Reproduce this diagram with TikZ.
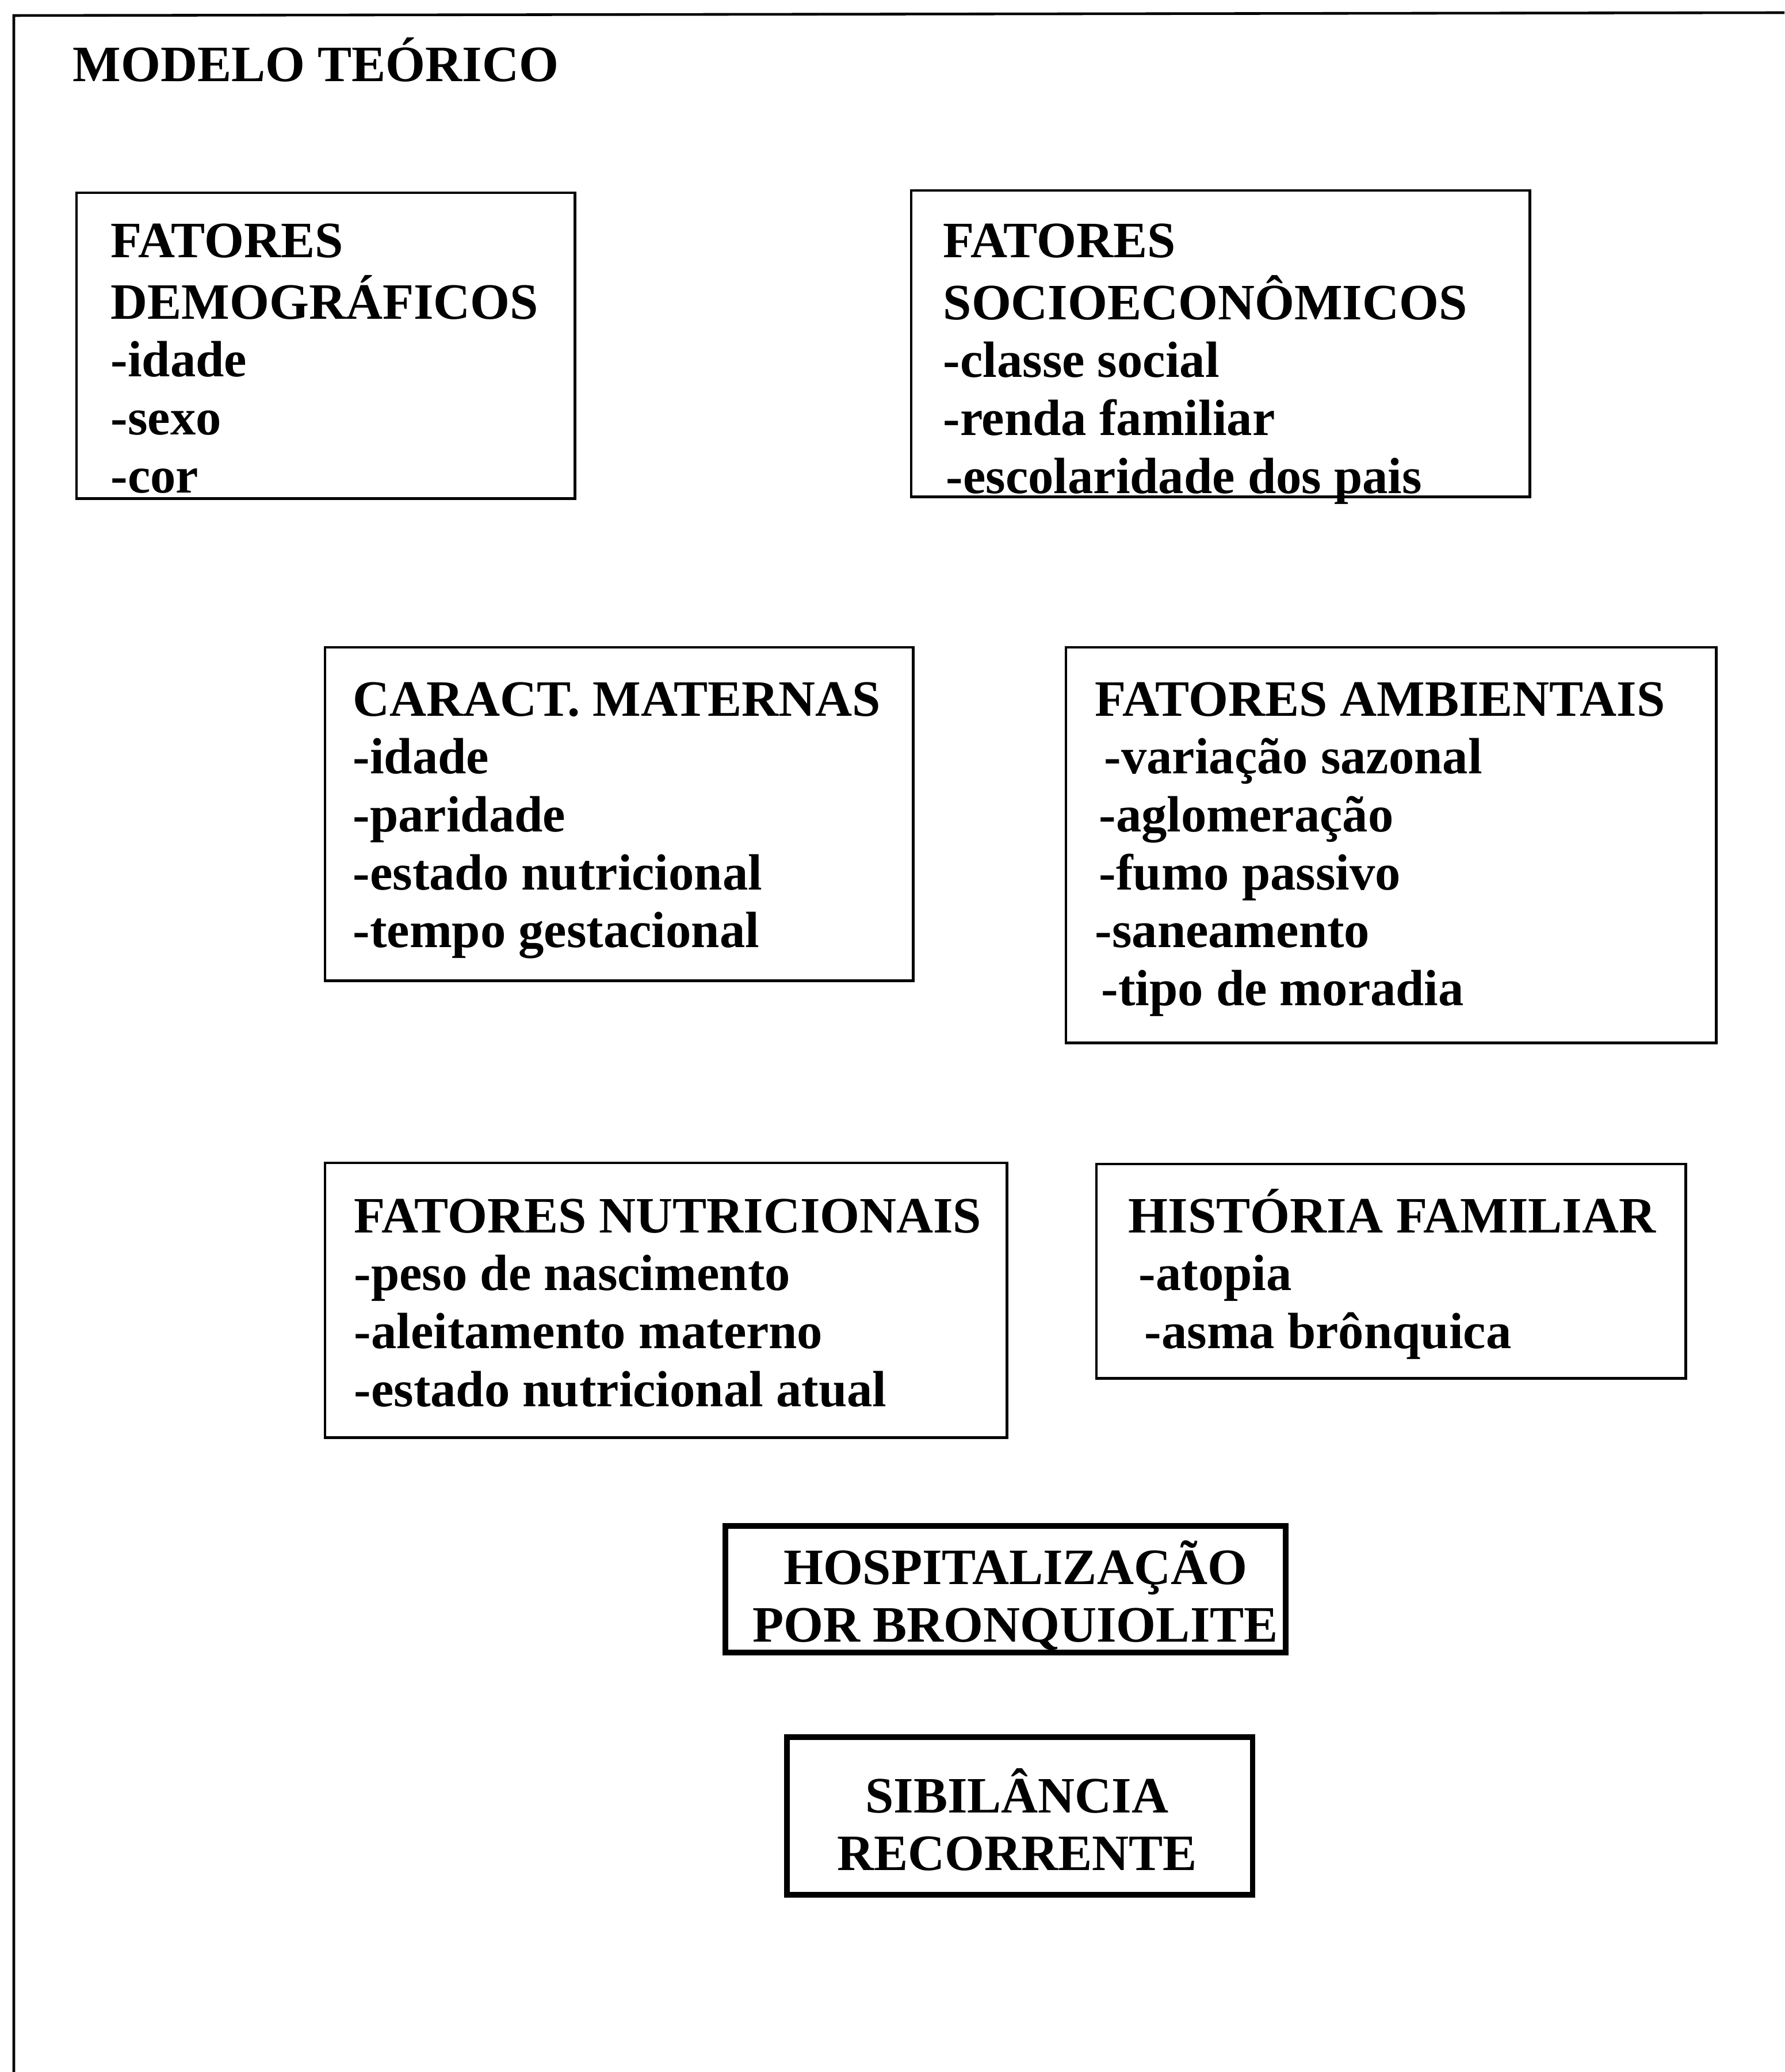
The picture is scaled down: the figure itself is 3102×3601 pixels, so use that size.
\documentclass[tikz,border=0pt]{standalone}
\usepackage{fontspec}
\setmainfont{Liberation Serif}
\begin{document}
\begin{tikzpicture}[x=0.01cm,y=-0.01cm,
  thinbox/.style={draw, line width=1.3pt, inner sep=0pt, outer sep=0pt, anchor=north west},
  thickbox/.style={draw, line width=2.8pt, inner sep=0pt, outer sep=0pt, anchor=north west},
  txt/.style={anchor=base west, inner sep=0pt, font=\fontsize{25.2}{28.63}\selectfont\bfseries},
  ctxt/.style={anchor=base, inner sep=0pt, font=\fontsize{25.2}{28.63}\selectfont\bfseries},
  frameline/.style={line width=1.3pt}
]
\useasboundingbox (0,0) rectangle (3102,3601);
% outer frame
\coordinate (fbl) at (24,3601);
\coordinate (ftl) at (24,27);
\coordinate (ftr) at (3102,22);
\draw[frameline] (fbl) -- (ftl) -- (ftr);

\node[txt] (title) at (126,142) {MODELO TEÓRICO};

% boxes
\node[thinbox, minimum width=8.66cm, minimum height=5.31cm] (b1) at (133,335) {};
\node[thinbox, minimum width=10.75cm, minimum height=5.32cm] (b2) at (1584,331) {};
\node[thinbox, minimum width=10.22cm, minimum height=5.79cm] (b3) at (565,1125) {};
\node[thinbox, minimum width=11.30cm, minimum height=6.87cm] (b4) at (1853,1125) {};
\node[thinbox, minimum width=11.85cm, minimum height=4.77cm] (b5) at (565,2021) {};
\node[thinbox, minimum width=10.24cm, minimum height=3.72cm] (b6) at (1906,2023) {};
\node[thickbox, minimum width=9.73cm, minimum height=2.20cm] (b7) at (1261,2652) {};
\node[thickbox, minimum width=8.09cm, minimum height=2.74cm] (b8) at (1368,3019) {};

% texts
\node[txt] (t1) at (192,448) {\begin{tabular}[t]{@{}l@{}}FATORES\\DEMOGRÁFICOS\\-idade\\-sexo\\-cor\end{tabular}};
\node[txt] (t2) at (1639,448) {\begin{tabular}[t]{@{}l@{}}FATORES\\SOCIOECONÔMICOS\\-classe social\\-renda familiar\\\hspace*{0.05cm}-escolaridade dos pais\end{tabular}};
\node[txt] (t3) at (613,1244) {\begin{tabular}[t]{@{}l@{}}CARACT. MATERNAS\\-idade\\-paridade\\-estado nutricional\\-tempo gestacional\end{tabular}};
\node[txt] (t4) at (1903,1244) {\begin{tabular}[t]{@{}l@{}}FATORES AMBIENTAIS\\\hspace*{0.16cm}-variação sazonal\\\hspace*{0.07cm}-aglomeração\\\hspace*{0.07cm}-fumo passivo\\-saneamento\\\hspace*{0.11cm}-tipo de moradia\end{tabular}};
\node[txt] (t5) at (615,2142) {\begin{tabular}[t]{@{}l@{}}FATORES NUTRICIONAIS\\-peso de nascimento\\-aleitamento materno\\-estado nutricional atual\end{tabular}};
\node[txt] (t6) at (1961,2142) {\begin{tabular}[t]{@{}l@{}}HISTÓRIA FAMILIAR\\\hspace*{0.18cm}-atopia\\\hspace*{0.28cm}-asma brônquica\end{tabular}};
\node[ctxt] (t7) at (1765,2753) {\begin{tabular}[t]{@{}c@{}}HOSPITALIZAÇÃO\\POR BRONQUIOLITE\end{tabular}};
\node[ctxt] (t8) at (1768,3150) {\begin{tabular}[t]{@{}c@{}}SIBILÂNCIA\\RECORRENTE\end{tabular}};
\end{tikzpicture}
\end{document}
